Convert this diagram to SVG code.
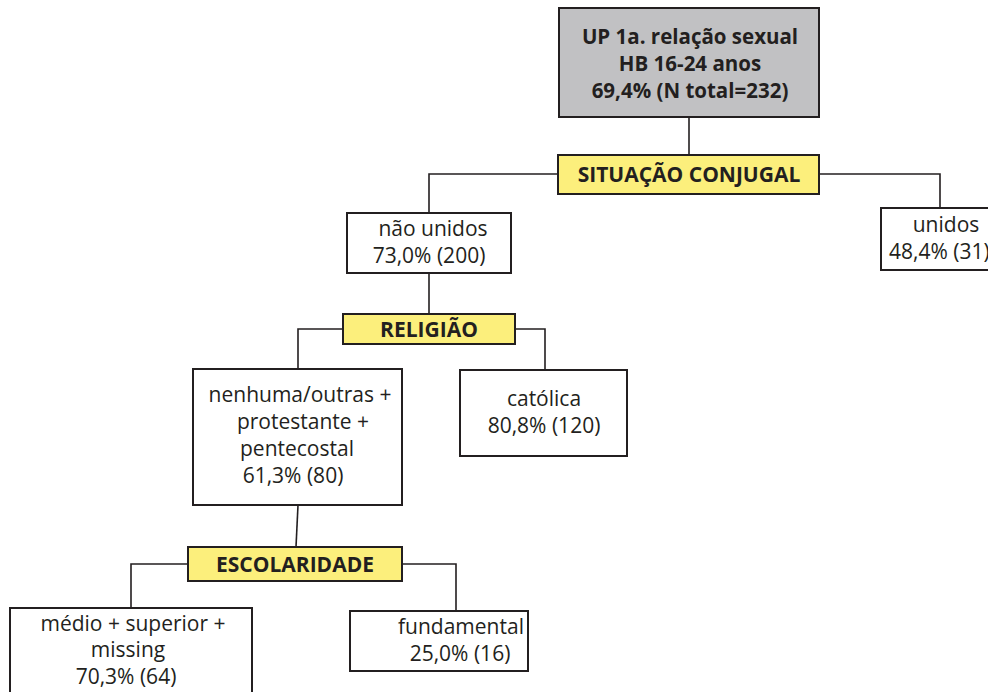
<svg xmlns="http://www.w3.org/2000/svg" width="988" height="692" viewBox="0 0 988 692">
  <style>
    .box { fill: #ffffff; stroke: #231f20; stroke-width: 2; }
    .root { fill: #c1c1c3; stroke: #231f20; stroke-width: 2; }
    .split { fill: #fcef7c; stroke: #231f20; stroke-width: 2; }
    .wire { fill: none; stroke: #231f20; stroke-width: 1.6; }
    text { font-family: "Open Sans", "Noto Sans", "DejaVu Sans", sans-serif; fill: #231f20; text-anchor: middle; }
    .t { font-size: 21px; }
    .b { font-size: 20.5px; font-weight: bold; }
    .s { font-size: 21px; font-weight: bold; }
    .l { text-anchor: start; }
  </style>
  <rect width="988" height="692" fill="#ffffff"/>

  <!-- connectors -->
  <g id="connectors">
    <path class="wire" d="M689 117 V155"/>
    <path class="wire" d="M558 174 H429 V213"/>
    <path class="wire" d="M819 174 H940 V208"/>
    <path class="wire" d="M429 273 V314"/>
    <path class="wire" d="M343 329 H298 V369"/>
    <path class="wire" d="M515 329 H545 V370"/>
    <path class="wire" d="M298 505 L296 547"/>
    <path class="wire" d="M188 564 H131 V608"/>
    <path class="wire" d="M402 564 H456 V611"/>
  </g>

  <!-- root node -->
  <g id="root">
    <rect class="root" x="559" y="8" width="260" height="109"/>
    <text class="b" x="690" y="44">UP 1a. relação sexual</text>
    <text class="b" x="690" y="71">HB 16-24 anos</text>
    <text class="b" x="690" y="98">69,4% (N total=232)</text>
  </g>

  <!-- split variables -->
  <g id="situacao-conjugal">
    <rect class="split" x="558" y="155" width="261" height="39"/>
    <text class="s" x="689" y="182">SITUAÇÃO CONJUGAL</text>
  </g>
  <g id="religiao">
    <rect class="split" x="343" y="314" width="172" height="30"/>
    <text class="s" x="429" y="337">RELIGIÃO</text>
  </g>
  <g id="escolaridade">
    <rect class="split" x="188" y="547" width="214" height="34"/>
    <text class="s" x="295" y="572">ESCOLARIDADE</text>
  </g>

  <!-- outcome nodes -->
  <g id="nao-unidos">
    <rect class="box" x="347" y="213" width="164" height="60"/>
    <text class="t" x="433" y="236">não unidos</text>
    <text class="t" x="429" y="263">73,0% (200)</text>
  </g>
  <g id="unidos">
    <rect class="box" x="881" y="208" width="130" height="62"/>
    <text class="t" x="946" y="232">unidos</text>
    <text class="t l" x="889" y="259">48,4% (31)</text>
  </g>
  <g id="nenhuma-outras">
    <rect class="box" x="193" y="369" width="209" height="136"/>
    <text class="t" x="300" y="402">nenhuma/outras +</text>
    <text class="t" x="303" y="429">protestante +</text>
    <text class="t" x="297" y="456">pentecostal</text>
    <text class="t" x="293" y="483">61,3% (80)</text>
  </g>
  <g id="catolica">
    <rect class="box" x="460" y="370" width="167" height="86"/>
    <text class="t" x="544" y="406">católica</text>
    <text class="t" x="544" y="433">80,8% (120)</text>
  </g>
  <g id="medio-superior">
    <rect class="box" x="10" y="608" width="242" height="100"/>
    <text class="t" x="133" y="631">médio + superior +</text>
    <text class="t" x="128" y="657">missing</text>
    <text class="t" x="126" y="684">70,3% (64)</text>
  </g>
  <g id="fundamental">
    <rect class="box" x="350" y="611" width="178" height="60"/>
    <text class="t" x="461" y="634">fundamental</text>
    <text class="t" x="460" y="661">25,0% (16)</text>
  </g>
</svg>
